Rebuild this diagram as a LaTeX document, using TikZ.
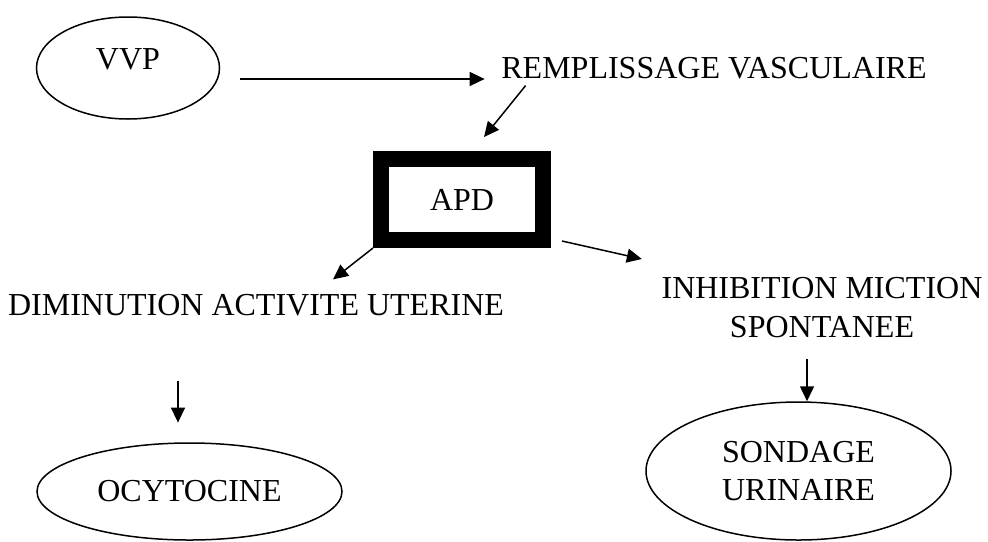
\documentclass[tikz,border=0pt]{standalone}
\usepackage{fontspec}
\setmainfont{Liberation Serif}
\usetikzlibrary{shapes.geometric,arrows.meta,calc}

\begin{document}
\begin{tikzpicture}[
    x=0.5pt, y=-0.5pt,
    txt/.style = {inner sep=0pt, align=center, font=\fontsize{16}{19.5}\selectfont},
    oval/.style = {draw, ellipse, line width=0.75pt, inner sep=0pt, align=center, font=\fontsize{16}{19}\selectfont},
    frame/.style = {draw, line width=8pt, minimum width=81pt, minimum height=40.5pt, inner sep=0pt, font=\fontsize{16}{20}\selectfont},
    > = {Triangle[length=7.5pt, width=7pt]},
    every path/.style = {line width=0.75pt}
]
\useasboundingbox (0,0) rectangle (988,541);

\node (vvp) [oval, minimum width=91.5pt, minimum height=51pt, text depth=9pt] at (128,68) {VVP};
\node (remp) [txt] at (714,68) {REMPLISSAGE VASCULAIRE};
\node (apd) [frame] at (462,199.5) {APD};
\node (dim) [txt] at (256,305) {DIMINUTION ACTIVITE UTERINE};
\node (inhib) [txt, anchor=north] at (822,277) {INHIBITION MICTION\\SPONTANEE};
\node (ocy) [oval, minimum width=152.5pt, minimum height=48.5pt] at (189.5,491.5) {OCYTOCINE};
\node (sond) [oval, minimum width=152.5pt, minimum height=69pt] at (798.5,471) {SONDAGE\\URINAIRE};
\coordinate (inhibout) at ($(inhib.south)+(-15,20)$);

\draw[->] ($(vvp.east)+(20,11)$) -- ($(remp.west)+(-16,11)$);
\draw[->] ($(remp.south west)+(25,6)$) -- ($(apd.north)+(22,-14)$);
\draw[->] (apd.south west) -- ($(dim.north)+(77,-14)$);
\draw[->] ($(apd.south east)+(11,-7)$) -- ($(inhib.north west)+(-19,-18)$);
\draw[->] ($(dim.south)+(-78,64)$) -- ($(dim.south)+(-78,106)$);
\draw[->] (inhibout) -- (inhibout |- sond.north);
\end{tikzpicture}
\end{document}
